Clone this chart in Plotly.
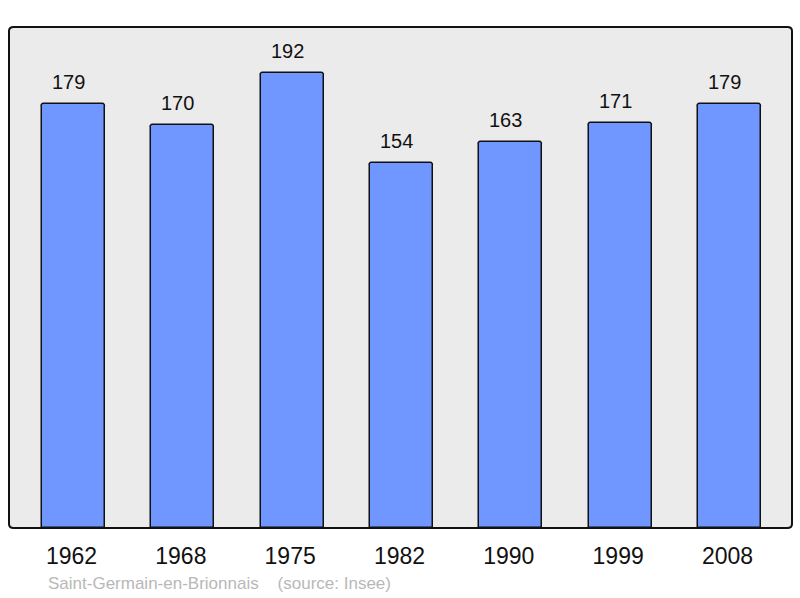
import plotly.graph_objects as go

years = ["1962", "1968", "1975", "1982", "1990", "1999", "2008"]
population = [179, 170, 192, 154, 163, 171, 179]
caption = "Saint-Germain-en-Brionnais    (source: Insee)"

W, H = 800, 598
ml, mr, mt, mb = 9, 8, 27, 70

xs = list(range(len(years)))

fig = go.Figure()
fig.add_trace(go.Bar(
    x=xs, y=population, width=0.576,
    marker=dict(color="#7096ff", line=dict(color="#111111", width=1.5), cornerradius=3),
    hoverinfo="skip",
))

for x, v in zip(xs, population):
    fig.add_annotation(x=x, y=v, text=str(v), showarrow=False, yanchor="middle",
                       yshift=22, xshift=-5, font=dict(size=20, color="#111111"))

fig.add_annotation(xref="paper", yref="paper", x=(46 - ml) / (W - ml - mr), y=(528 - 583) / (H - mt - mb),
                   xanchor="left", yanchor="middle", text=caption, showarrow=False,
                   font=dict(size=17, color="#b8b8b8"))

# rounded plot frame
fig.add_shape(type="path", xref="paper", yref="paper",
              path="M 0.006 0 L 0.994 0 Q 1 0 1 0.008 L 1 0.992 Q 1 1 0.994 1 L 0.006 1 Q 0 1 0 0.992 L 0 0.008 Q 0 0 0.006 0 Z",
              line=dict(color="#111111", width=2), layer="above")

fig.update_layout(
    width=W, height=H,
    margin=dict(l=ml, r=mr, t=mt, b=mb),
    paper_bgcolor="white", plot_bgcolor="#ebebeb",
    font=dict(family="Liberation Sans, Arial, sans-serif", color="#111111"),
    showlegend=False,
    xaxis=dict(range=[-0.59, 6.572], tickvals=xs, ticktext=years, showgrid=False, zeroline=False,
               ticks="outside", ticklen=7, tickcolor="rgba(0,0,0,0)", tickfont=dict(size=23),
               ticklabelshift=-2, fixedrange=True),
    yaxis=dict(range=[0, 211.5], showticklabels=False, showgrid=False, zeroline=False, fixedrange=True),
    bargap=0,
)

fig.write_html("out.html", config={"displayModeBar": False},
               post_script="document.body.style.margin='0';document.body.style.overflow='hidden';")
